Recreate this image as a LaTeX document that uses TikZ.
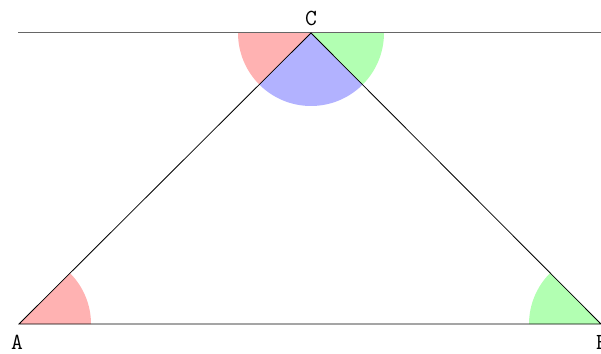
\documentclass[tikz,border=0pt]{standalone}
\begin{document}
\begin{tikzpicture}[x=1pt,y=1pt,
  lbl/.style={font=\ttfamily\fontsize{23}{23}\selectfont, inner sep=0pt},
  edge/.style={draw=black, line width=0.8pt},
  base/.style={draw=black!60, line width=1pt}]
\useasboundingbox (0,0) rectangle (601,353);
\coordinate (A) at (19,29);
\coordinate (B) at (601,29);
\coordinate (C) at (311,320);
\coordinate (L) at (18,320);
\coordinate (R) at (601,320);
% angle sectors
\fill[red!30] (A) -- ++(0:72) arc[start angle=0,end angle=45,radius=72] -- cycle;
\fill[green!30] (B) -- ++(135:72) arc[start angle=135,end angle=180,radius=72] -- cycle;
\fill[red!30] (C) -- ++(180:73) arc[start angle=180,end angle=225,radius=73] -- cycle;
\fill[blue!30] (C) -- ++(225:73) arc[start angle=225,end angle=315,radius=73] -- cycle;
\fill[green!30] (C) -- ++(315:73) arc[start angle=315,end angle=360,radius=73] -- cycle;
% lines
\draw[base] (L) -- (R);
\draw[edge] (A) -- (B) -- (C) -- cycle;
% labels
\node[lbl] (lA) at (17,11) {A};
\node[lbl] (lB) at (602,11) {B};
\node[lbl] (lC) at (311,335) {C};
\end{tikzpicture}
\end{document}
